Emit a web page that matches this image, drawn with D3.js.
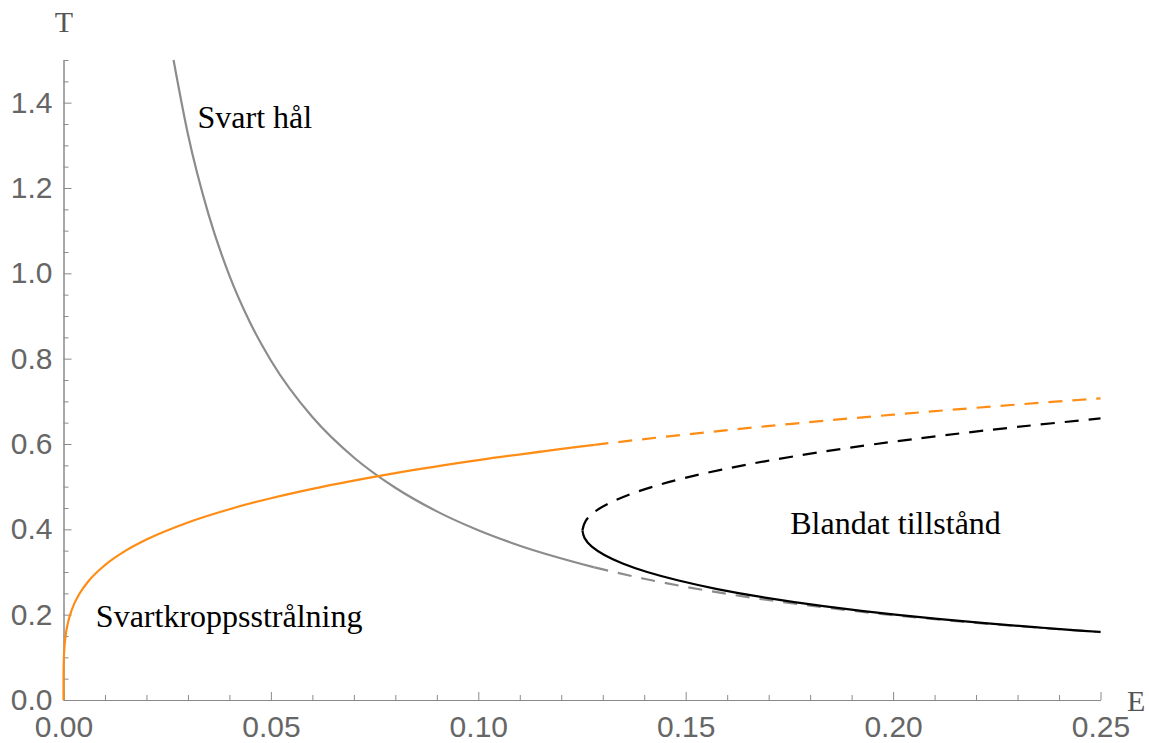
<!DOCTYPE html>
<html>
<head>
<meta charset="utf-8">
<script src="https://cdn.jsdelivr.net/npm/d3@7"></script>
<style>
  html, body { margin: 0; padding: 0; background: #fff; }
  svg { display: block; }
  .tick text { font-family: "Liberation Sans", Arial, sans-serif; font-size: 30px; fill: #666; }
  .axis path, .axis line { stroke: #8a8a8a; stroke-width: 1; }
  .label { font-family: "Liberation Serif", "Times New Roman", serif; }
</style>
</head>
<body>
<svg id="chart" width="1149" height="743"></svg>
<script>
// Blackbody radiation branch, T vs E (solid up to the transition, dashed beyond)
const radiationSolid = [
  [0, 0], [0.00001, 0.0562], [0.0001, 0.100], [0.0005, 0.1495], [0.001, 0.1778],
  [0.002, 0.2115], [0.004, 0.2515], [0.006, 0.2783], [0.01, 0.3162], [0.015, 0.350],
  [0.02, 0.3761], [0.03, 0.4162], [0.04, 0.4472], [0.05, 0.4729], [0.06, 0.4949],
  [0.08, 0.5318], [0.10, 0.5623], [0.128, 0.5981]
];
const radiationDashed = [
  [0.128, 0.5981], [0.15, 0.6223], [0.175, 0.6468], [0.20, 0.6687], [0.225, 0.6887], [0.25, 0.7071]
];

// Black hole branch
const blackHoleSolid = [
  [0.02653, 1.50], [0.03, 1.326], [0.035, 1.137], [0.04, 0.9947], [0.045, 0.8842],
  [0.05, 0.7958], [0.06, 0.6632], [0.07, 0.5684], [0.08, 0.4974], [0.09, 0.4421],
  [0.10, 0.3979], [0.11, 0.3617], [0.128, 0.3108]
];
const blackHoleDashed = [
  [0.128, 0.3108], [0.14, 0.2842], [0.16, 0.2487], [0.18, 0.2211], [0.20, 0.1989],
  [0.22, 0.1809], [0.25, 0.1592]
];

// Mixed state: lower (stable) branch solid, upper branch dashed
const mixedLower = [
  [0.1251, 0.3977], [0.1256, 0.38], [0.1273, 0.36], [0.1304, 0.34], [0.1348, 0.32],
  [0.1407, 0.30], [0.1483, 0.28], [0.1576, 0.26], [0.1691, 0.24], [0.1832, 0.22],
  [0.2005, 0.20], [0.2107, 0.19], [0.2221, 0.18], [0.2349, 0.17], [0.2493, 0.16], [0.2500, 0.1596]
];
const mixedUpper = [
  [0.1251, 0.3977], [0.1259, 0.42], [0.1279, 0.44], [0.1313, 0.46], [0.1360, 0.48],
  [0.1421, 0.50], [0.1496, 0.52], [0.1587, 0.54], [0.1694, 0.56], [0.1818, 0.58],
  [0.1959, 0.60], [0.2119, 0.62], [0.2299, 0.64], [0.2500, 0.66]
];

// Axis ticks
const xMajor = [0, 0.05, 0.10, 0.15, 0.20, 0.25];
const xMinor = d3.range(1, 25).map(i => i / 100).filter(v => Math.round(v * 100) % 5 !== 0);
const yMajor = [0, 0.2, 0.4, 0.6, 0.8, 1.0, 1.2, 1.4];
const yMinor = d3.range(1, 31).map(i => i / 20).filter(v => Math.round(v * 20) % 4 !== 0);

// Text labels
const annotations = [
  { text: "Svart hål", E: 0.0323, T: 1.340 },
  { text: "Blandat tillstånd", E: 0.1752, T: 0.390 },
  { text: "Svartkroppsstrålning", E: 0.0078, T: 0.171 }
];

const colors = { radiation: "#ff8c14", blackHole: "#8c8c8c", mixed: "#000000" };

const svg = d3.select("#chart");
const x = d3.scaleLinear().domain([0, 0.25]).range([63.5, 1100.5]);
const y = d3.scaleLinear().domain([0, 1.5]).range([700, 60]);

// Axes: minor ticks first, then major ticks with labels
svg.append("g").attr("class", "axis").attr("transform", "translate(0,700)")
  .call(d3.axisBottom(x).tickValues(xMinor).tickSize(-5).tickSizeOuter(0).tickFormat(""));
svg.append("g").attr("class", "axis").attr("transform", "translate(0,700)")
  .call(d3.axisBottom(x).tickValues(xMajor).tickSize(-8).tickSizeOuter(0).tickPadding(16).tickFormat(d3.format(".2f")));
svg.append("g").attr("class", "axis").attr("transform", "translate(63.5,0)")
  .call(d3.axisLeft(y).tickValues(yMinor).tickSize(-5).tickSizeOuter(0).tickFormat(""));
svg.append("g").attr("class", "axis").attr("transform", "translate(63.5,0)")
  .call(d3.axisLeft(y).tickValues(yMajor).tickSize(-8).tickSizeOuter(0).tickPadding(11).tickFormat(d3.format(".1f")));
svg.selectAll(".tick text").attr("font-family", null).attr("font-size", null);

// Axis titles
svg.append("text").attr("class", "label").attr("x", 64).attr("y", 32)
  .attr("text-anchor", "middle").attr("font-size", 30).attr("fill", "#555").text("T");
svg.append("text").attr("class", "label").attr("x", 1127).attr("y", 711)
  .attr("font-size", 30).attr("fill", "#555").text("E");

// Curves
const lineX = d3.line().x(d => x(d[0])).y(d => y(d[1])).curve(d3.curveMonotoneX);
const lineT = d3.line().x(d => x(d[0])).y(d => y(d[1])).curve(d3.curveMonotoneY);

function draw(data, gen, color, dashed) {
  svg.append("path").datum(data)
    .attr("d", gen)
    .attr("fill", "none")
    .attr("stroke", color)
    .attr("stroke-width", 2.2)
    .attr("stroke-dasharray", dashed ? "14,10" : null);
}

draw(blackHoleDashed, lineX, colors.blackHole, true);
draw(blackHoleSolid, lineX, colors.blackHole, false);
draw(radiationDashed, lineX, colors.radiation, true);
draw(radiationSolid, lineX, colors.radiation, false);
draw(mixedUpper, lineT, colors.mixed, true);
draw(mixedLower, lineT, colors.mixed, false);

// Region labels
svg.selectAll(".annot").data(annotations).enter().append("text")
  .attr("class", "label annot")
  .attr("x", d => x(d.E)).attr("y", d => y(d.T))
  .attr("font-size", 32).attr("fill", "#000")
  .text(d => d.text);
</script>
</body>
</html>
